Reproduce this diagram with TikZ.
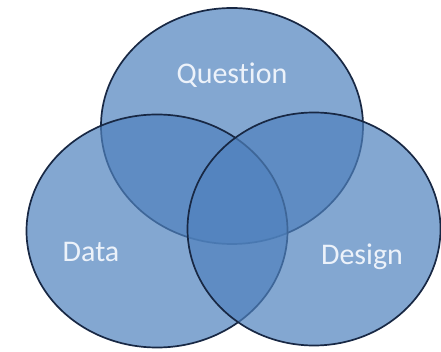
\documentclass[tikz,border=0pt]{standalone}
\usepackage{fontspec}
\setmainfont{Carlito}[Ligatures=NoCommon]
\usepackage{tikz}
\usetikzlibrary{shapes.geometric}
\definecolor{vennblue}{RGB}{79,129,189}
\definecolor{vennline}{RGB}{24,40,68}
\definecolor{venntext}{RGB}{236,242,250}

\begin{document}
\begin{tikzpicture}[x=1pt, y=-1pt,
    set/.style={draw=vennline, line width=1.7pt, ellipse, fill=vennblue, fill opacity=0.7, inner sep=0pt},
    setname/.style={text=venntext, font=\fontsize{30}{31}\selectfont}]
    \useasboundingbox (0, 0) rectangle (441, 352);

    \node (question) [set, minimum width=262pt, minimum height=236pt] at (232, 126) {};
    \node (data) [set, minimum width=261pt, minimum height=233pt] at (157, 231) {};
    \node (design) [set, minimum width=253pt, minimum height=233pt] at (314, 229) {};

    \node (qlabel) [setname] at (232, 75) {Question};
    \node (dlabel) [setname] at (91, 252) {Data};
    \node (glabel) [setname] at (362, 257) {Design};
\end{tikzpicture}
\end{document}
